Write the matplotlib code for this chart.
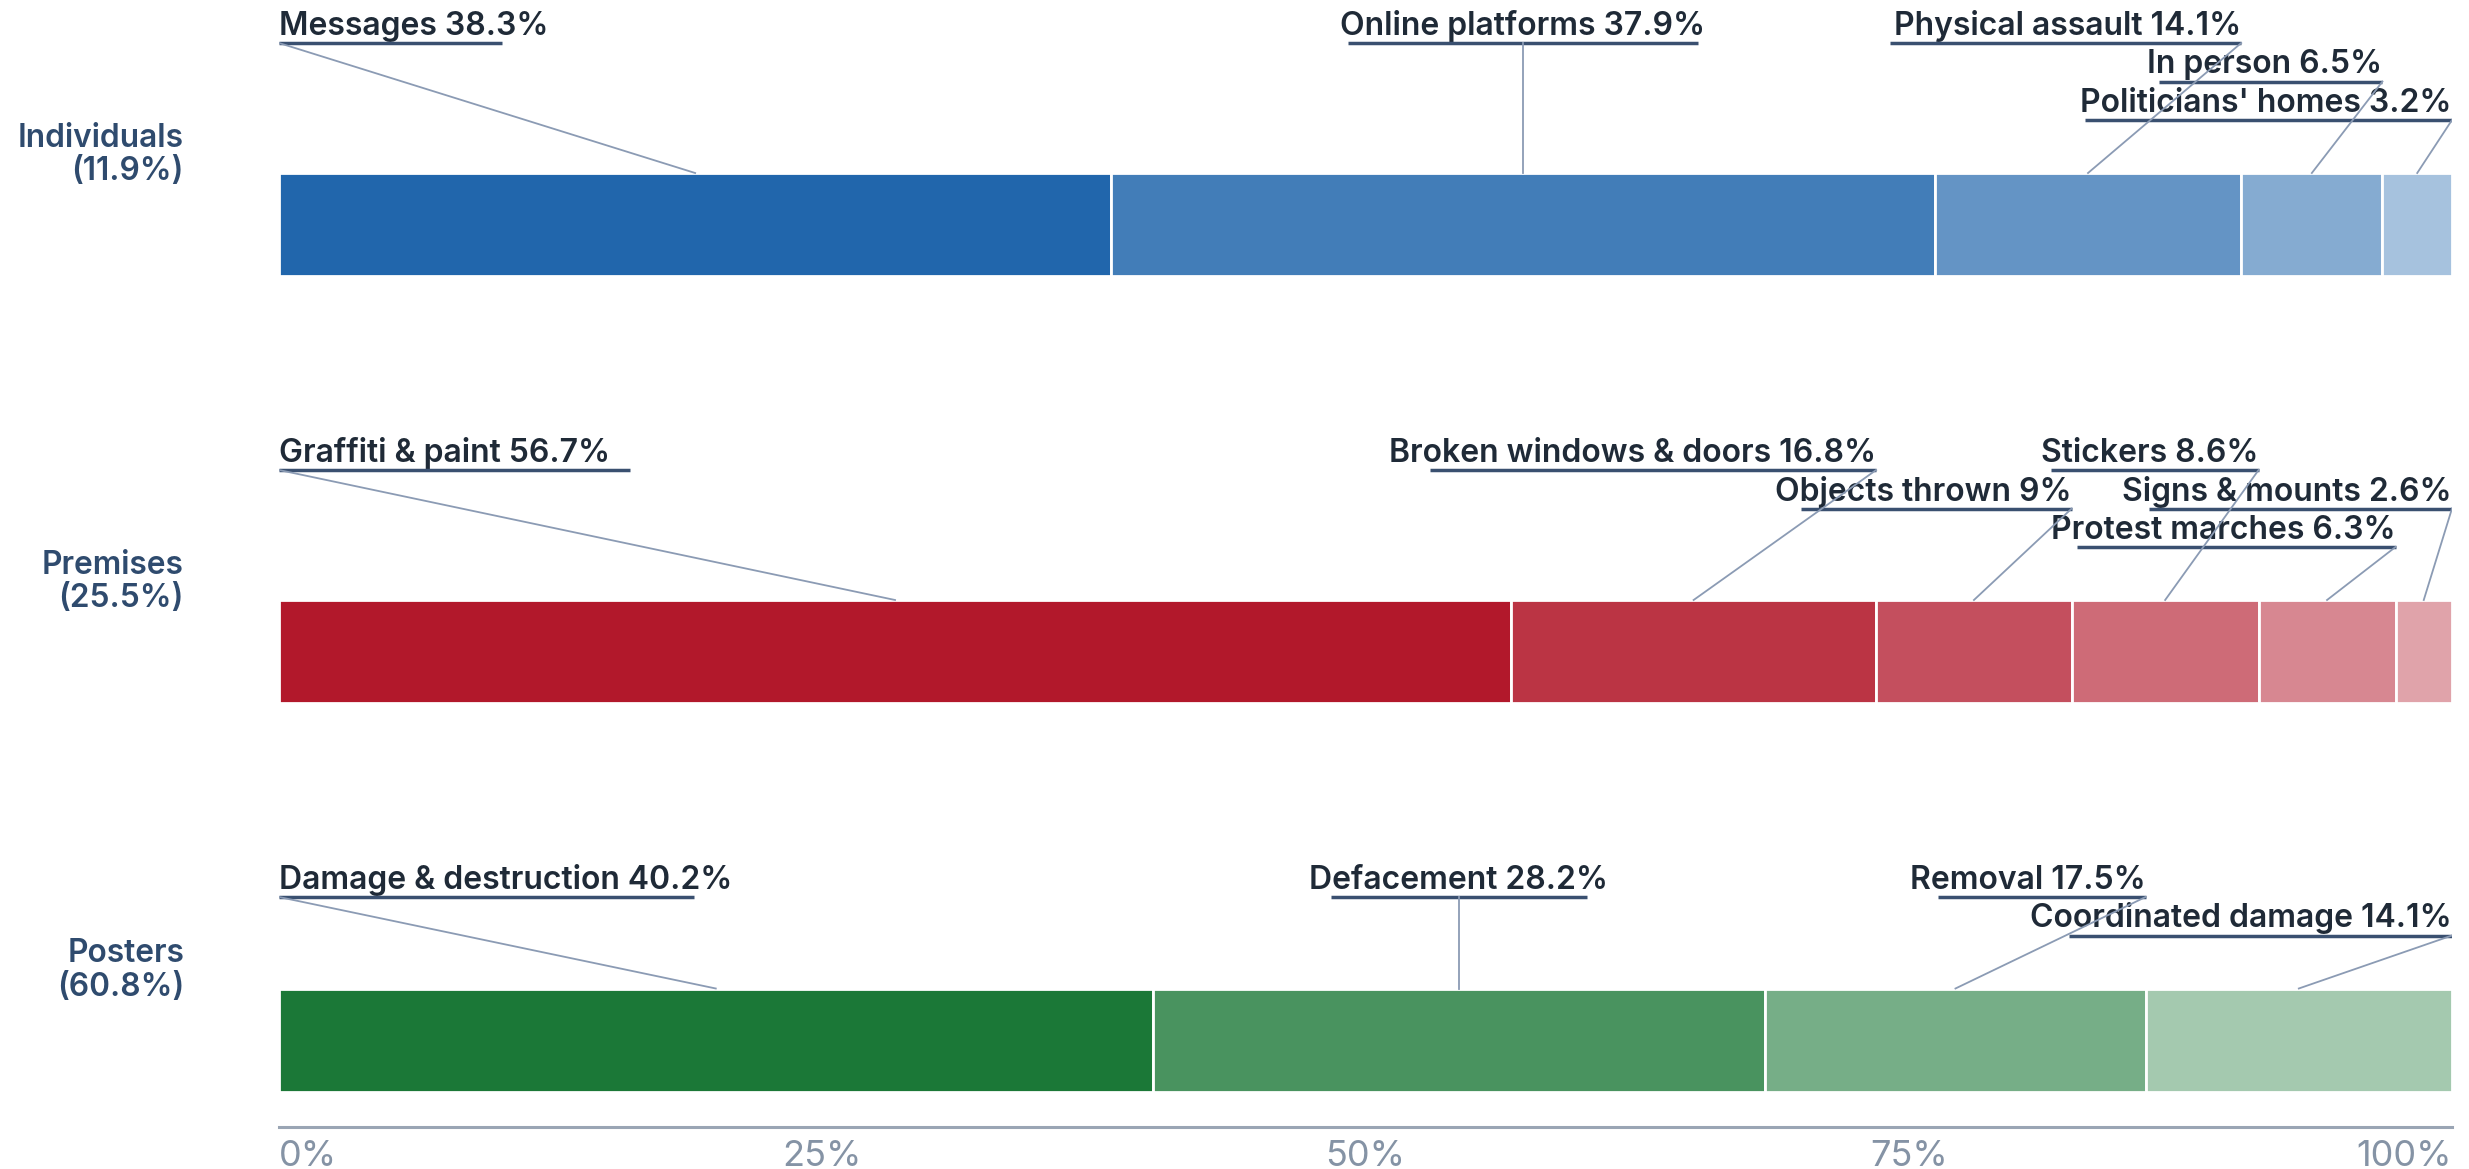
import matplotlib.pyplot as plt
import matplotlib.colors as mcolors
import numpy as np

# data
groups = ['Individuals', 'Premises', 'Posters']
group_shares = ['11.9%', '25.5%', '60.8%']

individuals_labels = ['Messages', 'Online platforms', 'Physical assault', 'In person', "Politicians' homes"]
individuals_values = [38.3, 37.9, 14.1, 6.5, 3.2]

premises_labels = ['Graffiti & paint', 'Broken windows & doors', 'Objects thrown', 'Stickers',
                   'Protest marches', 'Signs & mounts']
premises_values = [56.7, 16.8, 9, 8.6, 6.3, 2.6]

posters_labels = ['Damage & destruction', 'Defacement', 'Removal', 'Coordinated damage']
posters_values = [40.2, 28.2, 17.5, 14.1]

tick_values = [0, 25, 50, 75, 100]
tick_labels = ['0%', '25%', '50%', '75%', '100%']

# label layout: alignment and row of each annotation
individuals_align = ['left', 'center', 'right', 'right', 'right']
individuals_rows = [0, 0, 0, 1, 2]
premises_align = ['left', 'right', 'right', 'right', 'right', 'right']
premises_rows = [0, 0, 1, 0, 2, 1]
posters_align = ['left', 'center', 'right', 'right']
posters_rows = [0, 0, 0, 1]

base_colors = ['#2166ac', '#b2182b', '#1b7837']

TEXT = '#1f2a37'
UNDERLINE = '#3a5070'
LEADER = '#8b9bb4'
CAT = '#2f4b6e'
AXIS = '#9aa5b4'
TICK = '#8593a5'

plt.rcParams['font.family'] = ['Inter', 'DejaVu Sans']


def blend(color, alpha):
    rgb = np.array(mcolors.to_rgb(color))
    return tuple(rgb * alpha + (1 - alpha))


W, H = 2469, 1169
fig = plt.figure(figsize=(W / 100, H / 100), dpi=100)
x0, x1 = 279, 2452
axis_y = 1127
ax = fig.add_axes([x0 / W, 1 - axis_y / H, (x1 - x0) / W, axis_y / H])
ax.set_xlim(0, 100)
ax.set_ylim(axis_y, 0)
px = 100 / (x1 - x0)

bar_h = 103
row_step = 38.5
cursor = 43

series = [
    (individuals_labels, individuals_values, individuals_align, individuals_rows),
    (premises_labels, premises_values, premises_align, premises_rows),
    (posters_labels, posters_values, posters_align, posters_rows),
]

for g, (labels, values, aligns, rows) in enumerate(series):
    n_rows = max(rows) + 1
    row_y = [cursor + r * row_step for r in range(n_rows)]
    bar_top = row_y[-1] + 53
    n = len(values)
    lefts = np.concatenate([[0], np.cumsum(values)[:-1]])
    alphas = 1 - 0.6 * np.arange(n) / (n - 1)
    colors = [blend(base_colors[g], a) for a in alphas]
    ax.barh(bar_top + bar_h / 2, values, left=lefts, height=bar_h, color=colors,
            edgecolor='white', linewidth=2, zorder=2)

    for lab, v, left, al, r in zip(labels, values, lefts, aligns, rows):
        text = f'{lab} {v:g}%'
        mid = left + v / 2
        uw = 15.95 * len(text) * px
        if al == 'left':
            tx = left
            u0, u1 = left, left + uw
        elif al == 'center':
            tx = mid
            u0, u1 = mid - uw / 2, mid + uw / 2
        else:
            tx = left + v
            u0, u1 = tx - uw, tx
        y = row_y[r]
        ax.text(tx, y - 8, text, ha=al, va='baseline', fontsize=23,
                fontweight='semibold', color=TEXT, zorder=3)
        ax.plot([u0, u1], [y, y], color=UNDERLINE, lw=2.5, solid_capstyle='butt', zorder=4)
        ax.plot([tx, mid], [y, bar_top], color=LEADER, lw=1.3, zorder=5)

    ax.text(-95 * px, bar_top - 18, f'{groups[g]}\n({group_shares[g]})', ha='right', va='center',
            multialignment='right', fontsize=22.8, fontweight='semibold', color=CAT,
            linespacing=1.1, clip_on=False)

    cursor = bar_top + bar_h + 194

for s in ['left', 'top', 'right']:
    ax.spines[s].set_visible(False)
ax.spines['bottom'].set_color(AXIS)
ax.spines['bottom'].set_linewidth(2.2)
ax.set_yticks([])
ax.set_xticks(tick_values)
ax.set_xticklabels(tick_labels, fontsize=26, color=TICK)
ax.tick_params(axis='x', length=0, pad=9)
tl = ax.get_xticklabels()
tl[0].set_ha('left')
tl[-1].set_ha('right')

fig.savefig('out.png', dpi=100)
